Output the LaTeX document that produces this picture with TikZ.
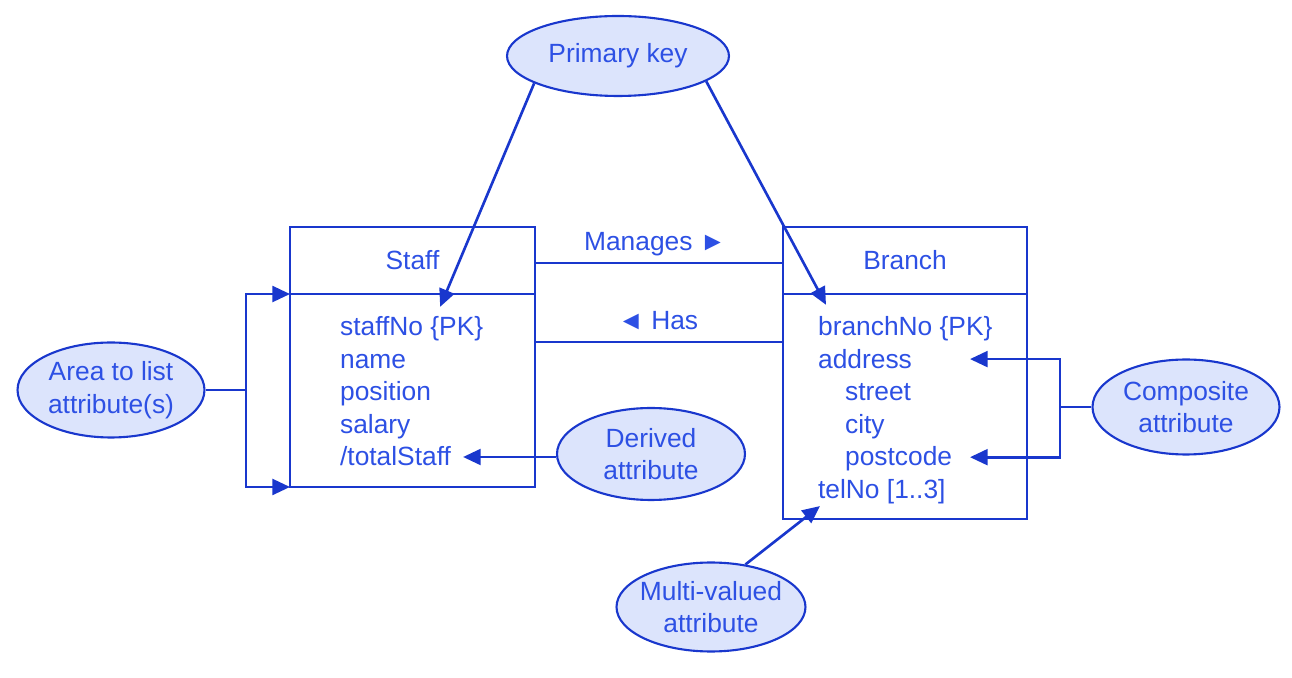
\documentclass[tikz,border=0pt]{standalone}
\usepackage{fontspec}
\setmainfont{Liberation Sans}
\usetikzlibrary{shapes.geometric,arrows.meta}

\definecolor{umlline}{RGB}{25,55,205}
\definecolor{umltext}{RGB}{45,80,228}
\definecolor{umlfill}{RGB}{220,228,252}

\tikzset{
  classbox/.style = {draw=umlline, line width=1.5pt, inner sep=0pt,
    outer sep=0pt, text=umltext},
  note/.style = {shape=ellipse, draw=umlline, line width=1.2pt,
    fill=umlfill, text=umltext, align=center, inner sep=0pt},
  attr/.style = {anchor=base west, inner sep=1pt, text=umltext},
  link/.style = {draw=umlline, line width=1.5pt},
  arr/.style = {link, -{Triangle[length=10pt,width=9pt]}}
}

\begin{document}
\begin{tikzpicture}[x=0.02cm, y=-0.02cm, font=\fontsize{15}{18.5}\selectfont]
  \useasboundingbox (0,0) rectangle (1292,678);
  % the two classes
  \node[classbox, minimum width=4.9cm, minimum height=1.34cm] (staffhead) at (412.5,260.5) {Staff};
  \node[classbox, minimum width=4.9cm, minimum height=3.86cm] (staffbody) at (412.5,390.5) {};
  \node[classbox, minimum width=4.88cm, minimum height=1.34cm] (branchhead) at (905,260.5) {Branch};
  \node[classbox, minimum width=4.88cm, minimum height=4.5cm] (branchbody) at (905,406.5) {};
  \foreach \n/\t [count=\i] in {staffno/{staffNo \{PK\}}, name/name, position/position,
      salary/salary, totalstaff/{/totalStaff}}
    \node[attr] (\n) at (338,{336+32.5*(\i-1)}) {\t};
  \foreach \n/\x/\t [count=\i] in {branchno/816/{branchNo \{PK\}}, address/816/address,
      street/843/street, city/843/city, postcode/843/postcode, telno/816/{telNo [1..3]}}
    \node[attr] (\n) at (\x,{336+32.5*(\i-1)}) {\t};
  % relationships
  \node[text=umltext] (manages) at (655,244) {Manages ►};
  \node[text=umltext] (has) at (658,321) {◄ Has};
  \coordinate (manline) at (0,263);
  \coordinate (hasline) at (0,342);
  \draw[link] (staffhead.east |- manline) -- (branchhead.west |- manline);
  \draw[link] (staffbody.east |- hasline) -- (branchbody.west |- hasline);
  % notes
  \node[note, minimum width=4.44cm, minimum height=1.6cm] (pk) at (618,56) {Primary key};
  \node[note, minimum width=3.74cm, minimum height=1.9cm] (area) at (111,390) {Area to list\\attribute(s)};
  \node[note, minimum width=3.76cm, minimum height=1.84cm] (derived) at (651,454) {Derived\\attribute};
  \node[note, minimum width=3.74cm, minimum height=1.9cm] (composite) at (1186,407) {Composite\\attribute};
  \node[note, minimum width=3.78cm, minimum height=1.78cm, inner xsep=-3pt] (multi) at (711,607) {Multi-valued\\attribute};
  % pointers
  \draw[arr] (pk.198) -- ([xshift=0.57cm,yshift=0.16cm]staffno.north);
  \draw[arr] (pk.-16) -- ([xshift=0.2cm,yshift=0.2cm]branchno.north west);
  \draw[arr] (derived.west |- 0,457) -- ([xshift=0.2cm]totalstaff.east |- 0,457);
  \coordinate (ajoin) at (246,390);
  \draw[link] (area.east) -- (ajoin);
  \draw[arr] (ajoin) |- (staffbody.north west);
  \draw[arr] (ajoin) |- (staffbody.south west);
  \coordinate (cjoin) at (1060,407);
  \coordinate (ctip) at (970,407);
  \draw[link] (composite.west) -- (cjoin);
  \draw[arr] (cjoin) |- (address -| ctip);
  \draw[arr] (cjoin) |- ([yshift=0.04cm]postcode -| ctip);
  \draw[arr] (multi.51) -- ([xshift=0.08cm]telno.south west);
\end{tikzpicture}
\end{document}
